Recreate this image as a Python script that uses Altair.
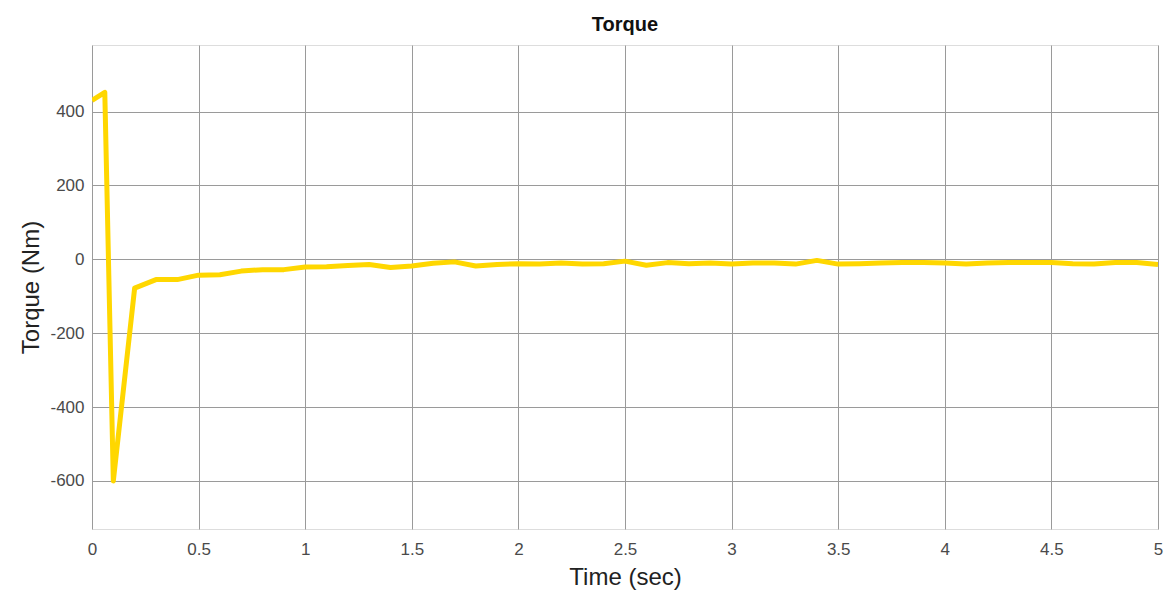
import altair as alt
import pandas as pd

# Electromagnetic torque of the machine over the simulation run
time_s = [0.0, 0.06, 0.1, 0.2, 0.3, 0.4, 0.5, 0.6, 0.7, 0.8, 0.9,
          1.0, 1.1, 1.2, 1.3, 1.4, 1.5, 1.6, 1.7, 1.8, 1.9,
          2.0, 2.1, 2.2, 2.3, 2.4, 2.5, 2.6, 2.7, 2.8, 2.9,
          3.0, 3.1, 3.2, 3.3, 3.4, 3.5, 3.6, 3.7, 3.8, 3.9,
          4.0, 4.1, 4.2, 4.3, 4.4, 4.5, 4.6, 4.7, 4.8, 4.9, 5.0]
torque_nm = [430, 452, -600, -78, -55, -55, -43, -42, -32, -28, -28,
             -21, -20, -17, -14, -22, -18, -11, -7, -18, -14,
             -12, -13, -10, -13, -12, -5, -16, -9, -12, -10,
             -13, -10, -10, -13, -3, -13, -12, -10, -9, -9,
             -10, -13, -10, -9, -9, -9, -12, -13, -9, -9, -14]

x_ticks = [0, 0.5, 1, 1.5, 2, 2.5, 3, 3.5, 4, 4.5, 5]
y_ticks = [-600, -400, -200, 0, 200, 400]

df = pd.DataFrame({"t": time_s, "torque": torque_nm})

font = "Liberation Sans"

chart = (
    alt.Chart(df)
    .mark_line(color="#FFD700", strokeWidth=5, strokeJoin="round", clip=True)
    .encode(
        x=alt.X(
            "t:Q",
            scale=alt.Scale(domain=[0, 5], nice=False, zero=False),
            axis=alt.Axis(
                values=x_ticks,
                labelExpr="'' + datum.value",
                title="Time (sec)",
                titleFont=font,
                titleFontSize=24,
                titleFontWeight="normal",
                titleColor="#222222",
                titlePadding=8,
                labelFont=font,
                labelFontSize=17,
                labelColor="#4a4a4a",
                labelPadding=12,
                labelFlush=False,
                ticks=False,
                domain=False,
                grid=True,
                gridColor="#9a9a9a",
                gridWidth=1,
            ),
        ),
        y=alt.Y(
            "torque:Q",
            scale=alt.Scale(domain=[-730, 580], nice=False, zero=False),
            axis=alt.Axis(
                values=y_ticks,
                labelExpr="'' + datum.value",
                title="Torque (Nm)",
                titleFont=font,
                titleFontSize=24,
                titleFontWeight="normal",
                titleColor="#222222",
                titlePadding=6,
                labelFont=font,
                labelFontSize=17,
                labelColor="#4a4a4a",
                labelPadding=8,
                ticks=False,
                domain=False,
                grid=True,
                gridColor="#9a9a9a",
                gridWidth=1,
            ),
        ),
    )
    .properties(
        width=1066,
        height=484,
        title=alt.TitleParams(
            "Torque",
            font=font,
            fontSize=20,
            fontWeight="bold",
            color="#111111",
            anchor="middle",
            offset=10,
        ),
        padding={"left": 92, "top": 45, "right": 14, "bottom": 76},
        autosize="none",
    )
    .configure_view(stroke="#333333", strokeWidth=1.5)
    .configure(background="white")
)

chart.save("out.html", embed_options={"renderer": "svg", "actions": False})
